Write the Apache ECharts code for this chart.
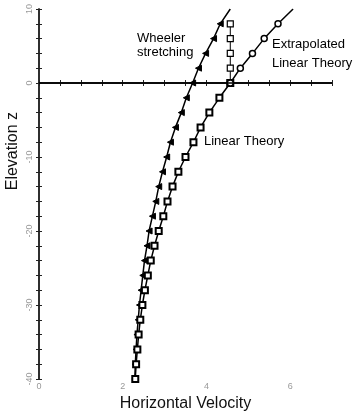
<!DOCTYPE html>
<html>
<head>
<meta charset="utf-8">
<script src="https://cdn.jsdelivr.net/npm/echarts@6/dist/echarts.min.js"></script>
<style>
  html, body { margin: 0; padding: 0; background: #fff; }
  #chart { width: 354px; height: 411px; }
</style>
</head>
<body>
<div id="chart"></div>
<script>
// elevations (z) and horizontal velocities
const wheelerZ = [10, 8, 6, 4, 2, 0, -2, -4, -6, -8, -10, -12, -14, -16, -18, -20, -22, -24, -26, -28, -30, -32, -34, -36, -38, -40];
const wheelerU = [4.57, 4.33, 4.17, 3.98, 3.81, 3.67, 3.52, 3.40, 3.26, 3.14, 3.05, 2.95, 2.86, 2.79, 2.71, 2.63, 2.58, 2.52, 2.48, 2.44, 2.40, 2.37, 2.34, 2.32, 2.30, 2.29];

const linearZ = [0, -2, -4, -6, -8, -10, -12, -14, -16, -18, -20, -22, -24, -26, -28, -30, -32, -34, -36, -38, -40];
const linearU = [4.57, 4.31, 4.07, 3.86, 3.69, 3.50, 3.33, 3.19, 3.07, 2.97, 2.86, 2.76, 2.67, 2.60, 2.53, 2.47, 2.42, 2.38, 2.35, 2.32, 2.30];

const verticalZ = [0, 2, 4, 6, 8];
const verticalU = [4.57, 4.57, 4.57, 4.57, 4.57];

const extrapZ = [0, 2, 4, 6, 8, 10];
const extrapU = [4.57, 4.81, 5.10, 5.38, 5.71, 6.07];

const pair = (us, zs) => us.map((u, i) => [u, zs[i]]);

const chart = echarts.init(document.getElementById('chart'));
const font = 'Arial, "Liberation Sans", sans-serif';

const lineBase = {
  type: 'line',
  lineStyle: { color: '#000', width: 1.5 },
  animation: false,
  z: 3
};

const option = {
  animation: false,
  grid: { left: 39, right: 22, top: 9, bottom: 32, containLabel: false, outerBoundsMode: 'none' },
  xAxis: [
    {
      type: 'value',
      min: 0,
      max: 7,
      interval: 2,
      name: 'Horizontal Velocity',
      nameLocation: 'middle',
      nameGap: 10,
      nameTextStyle: { fontFamily: font, fontSize: 16, color: '#111' },
      axisLine: { lineStyle: { color: '#222', width: 1.5 } },
      axisTick: { inside: true, length: 3, lineStyle: { color: '#222' } },
      minorTick: { show: true, splitNumber: 4, length: 3, lineStyle: { color: '#222' } },
      axisLabel: { color: '#999', fontFamily: font, fontSize: 9, margin: 3,
        showMaxLabel: false },
      splitLine: { show: false }
    },
    {
      type: 'value',
      position: 'top',
      min: 0,
      max: 7,
      interval: 2,
      axisLine: { show: true, lineStyle: { color: '#222', width: 1.5 } },
      axisTick: { inside: true, length: 3, lineStyle: { color: '#222' } },
      minorTick: { show: true, splitNumber: 4, length: 3, lineStyle: { color: '#222' } },
      axisLabel: { show: false },
      splitLine: { show: false }
    }
  ],
  yAxis: [
    {
      type: 'value',
      min: -40,
      max: 10,
      interval: 10,
      axisLine: { lineStyle: { color: '#222', width: 1.5 } },
      axisTick: { inside: true, length: 3, lineStyle: { color: '#222' } },
      minorTick: { show: true, splitNumber: 5, length: 3, lineStyle: { color: '#222' } },
      axisLabel: { color: '#999', fontFamily: font, fontSize: 9, rotate: 90, margin: 5 },
      splitLine: { show: false }
    },
    {
      type: 'value',
      position: 'right',
      min: -40,
      max: 10,
      interval: 10,
      axisLine: { show: true, lineStyle: { color: '#222', width: 1.5 } },
      axisTick: { inside: true, length: 3, lineStyle: { color: '#222' } },
      minorTick: { show: true, splitNumber: 5, length: 3, lineStyle: { color: '#222' } },
      axisLabel: { show: false },
      splitLine: { show: false }
    }
  ],
  graphic: [
    { type: 'text', left: 5, top: 112, rotation: Math.PI / 2,
      style: { text: 'Elevation z', font: '16px ' + font, fill: '#111' } },
    { type: 'text', left: 137, top: 31,
      style: { text: 'Wheeler\nstretching', font: '13px ' + font, fill: '#000', lineHeight: 14 } },
    { type: 'text', left: 272, top: 35,
      style: { text: 'Extrapolated\nLinear Theory', font: '13px ' + font, fill: '#000', lineHeight: 19 } },
    { type: 'text', left: 204, top: 135,
      style: { text: 'Linear Theory', font: '13px ' + font, fill: '#000' } }
  ],
  series: [
    Object.assign({}, lineBase, {
      name: 'Wheeler stretching',
      data: pair(wheelerU, wheelerZ).map((d, i) => i === 0 ? { value: d, symbol: 'none' } : d),
      symbol: 'triangle',
      symbolRotate: 90,
      symbolSize: 6,
      itemStyle: { color: '#000', borderColor: '#000', borderWidth: 1 },
      markLine: {
        silent: true,
        symbol: 'none',
        label: { show: false },
        lineStyle: { color: '#000', width: 1.5, type: 'solid' },
        data: [{ yAxis: 0 }]
      }
    }),
    Object.assign({}, lineBase, {
      name: 'Linear Theory',
      data: pair(linearU, linearZ),
      symbol: 'rect',
      symbolSize: 6,
      itemStyle: { color: '#fff', borderColor: '#000', borderWidth: 2 }
    }),
    Object.assign({}, lineBase, {
      name: 'Vertical',
      data: pair(verticalU, verticalZ),
      symbol: 'rect',
      symbolSize: 6,
      lineStyle: { color: '#000', width: 1 },
      itemStyle: { color: '#fff', borderColor: '#000', borderWidth: 1.2 }
    }),
    Object.assign({}, lineBase, {
      name: 'Extrapolated Linear Theory',
      data: pair(extrapU, extrapZ).map((d, i) => i === extrapU.length - 1 ? { value: d, symbol: 'none' } : d),
      symbol: 'circle',
      symbolSize: 6,
      itemStyle: { color: '#fff', borderColor: '#000', borderWidth: 1.5 }
    })
  ]
};

chart.setOption(option);
</script>
</body>
</html>
